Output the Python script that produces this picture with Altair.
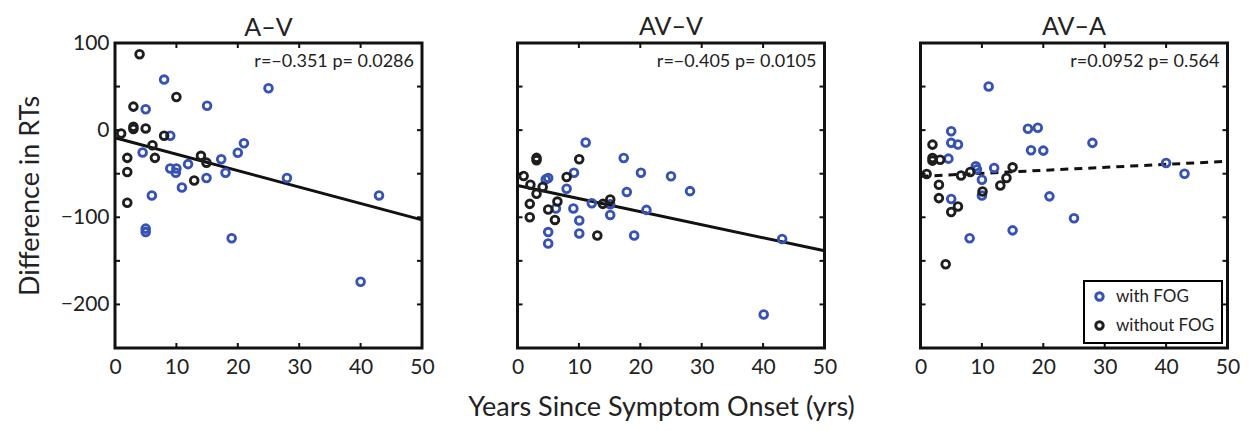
import altair as alt
import pandas as pd

FONT = "Lato"
BLUE = "#3652b2"
BLACK = "#1e1e1e"

groups = ["with FOG", "without FOG"]
panel_titles = ["A\u2013V", "AV\u2013V", "AV\u2013A"]
stat_texts = ["r=\u22120.351 p= 0.0286", "r=\u22120.405 p= 0.0105", "r=0.0952 p= 0.564"]

# Panel A-V
av_fog_x = [8, 25, 15, 5, 9, 21, 4.5, 20, 17.3, 11.9, 9, 10, 9.9, 18, 14.9, 28, 10.9, 6, 43, 5, 5, 19, 40]
av_fog_y = [58, 48, 28, 24, -6.5, -15, -25.7, -26, -33.5, -39, -44, -44, -48.8, -49, -55, -55, -65.8, -75, -75, -113, -117, -124, -174]
av_nofog_x = [4, 10, 3, 3, 3, 5, 1, 8, 6.1, 2, 6.5, 14, 14.9, 2, 12.9, 2]
av_nofog_y = [87, 38, 27, 4, 1.2, 2, -3.8, -6.5, -17.3, -31.8, -31.8, -29.5, -37.3, -48, -57.7, -83.4]

# Panel AV-V
avv_fog_x = [11.1, 17.3, 20.1, 9.2, 25, 5.0, 4.6, 8.0, 28.1, 17.8, 12.1, 15.1, 21, 9.1, 6.25, 15.1, 10.06, 5.0, 10.06, 19, 5.0, 43.1, 40.1]
avv_fog_y = [-14.2, -31.9, -49, -48.8, -53, -55, -56.5, -67.3, -70, -71, -83.8, -85, -91.5, -90, -90, -97.3, -103.8, -117, -118.5, -121, -130, -125, -211.5]
avv_nofog_x = [3.1, 3.1, 10.05, 1.0, 8.0, 2.1, 4.1, 3.1, 2.0, 6.5, 5.0, 2.0, 6.1, 13.9, 15.1, 13.0]
avv_nofog_y = [-31.8, -34.6, -33.4, -52.6, -53.8, -62.7, -65.3, -73, -84.6, -82, -91, -100, -103, -84.6, -79.6, -121]

# Panel AV-A
ava_fog_x = [11.1, 5.0, 17.5, 19.1, 5.0, 6.1, 28, 4.55, 18, 20, 9.0, 9.2, 12, 10, 10, 21, 5.0, 25, 15, 8, 40, 43]
ava_fog_y = [50, -1.2, 1.5, 2.7, -14.6, -16.5, -14.6, -32.7, -23, -23.5, -41.5, -45, -43.5, -57, -75, -76, -79, -101, -115, -124, -37.7, -50]
ava_nofog_x = [1.95, 1.95, 1.95, 3.2, 1.0, 6.6, 8.1, 3.0, 15.0, 14.0, 13.0, 10.1, 3.0, 6.1, 5.0, 4.1]
ava_nofog_y = [-16.6, -32, -35, -34, -50.4, -52, -48, -62.7, -42.7, -55, -63.5, -70.4, -78, -87.7, -94, -154]

fit_x = [0, 50]
av_fit_y = [-8.8, -103]
avv_fit_y = [-63.5, -138.5]
ava_fit_y = [-53, -35.8]

y_tick_vals = [50, 0, -50, -100, -150, -200]
y_label_vals = [100, 0, -100, -200]
x_tick_vals = [10, 20, 30, 40]
x_label_vals = [0, 10, 20, 30, 40, 50]

W, H = 307, 305
TL = 5

panels = [
    (av_fog_x, av_fog_y, av_nofog_x, av_nofog_y, av_fit_y, False),
    (avv_fog_x, avv_fog_y, avv_nofog_x, avv_nofog_y, avv_fit_y, False),
    (ava_fog_x, ava_fog_y, ava_nofog_x, ava_nofog_y, ava_fit_y, True),
]

xscale = alt.Scale(domain=[0, 50], nice=False, zero=False)
yscale = alt.Scale(domain=[-250, 100], nice=False, zero=False)
cscale = alt.Scale(domain=groups, range=[BLUE, BLACK])

legend = alt.Legend(title=None, orient="none", legendX=969, legendY=238, labelFontSize=17,
                    labelFont=FONT, labelColor="#222", symbolType="circle",
                    symbolFillColor="white", symbolStrokeWidth=3, symbolSize=55,
                    padding=7, rowPadding=8, strokeColor="black", fillColor="white",
                    labelOffset=8)

charts = []
for i, (fx, fy, nx, ny, fit_y, dashed) in enumerate(panels):
    pts = pd.DataFrame({
        "x": list(fx) + list(nx),
        "y": list(fy) + list(ny),
        "group": [groups[0]] * len(fx) + [groups[1]] * len(nx),
    })
    fit = pd.DataFrame({"x": fit_x, "y": fit_y})
    yt = pd.DataFrame({"y": y_tick_vals})
    xt = pd.DataFrame({"x": x_tick_vals})
    txt = pd.DataFrame({"t": [stat_texts[i]]})

    if i == 0:
        yaxis = alt.Axis(values=y_label_vals, ticks=False, tickSize=0, domain=False, grid=False,
                         labelFontSize=21, labelPadding=6, labelColor="#222", labelFont=FONT,
                         labelFlush=False,
                         title="Difference in RTs", titleFontSize=27, titleFont=FONT,
                         titleFontWeight="normal", titlePadding=16, titleColor="#222")
    else:
        yaxis = None
    if i == 1:
        xaxis = alt.Axis(values=x_label_vals, ticks=False, tickSize=0, domain=False, grid=False,
                         labelFontSize=21, labelPadding=8, labelColor="#222", labelFont=FONT,
                         labelFlush=False,
                         title="Years Since Symptom Onset (yrs)", titleX=W / 2 - 10,
                         titleFontSize=27, titleFont=FONT, titleFontWeight="normal",
                         titlePadding=17, titleColor="#222")
    else:
        xaxis = alt.Axis(values=x_label_vals, ticks=False, tickSize=0, domain=False, grid=False,
                         labelFontSize=21, labelPadding=8, labelColor="#222", labelFont=FONT,
                         labelFlush=False, title=None)

    def X(f="x:Q"):
        return alt.X(f, scale=xscale, axis=xaxis)

    def Y(f="y:Q"):
        return alt.Y(f, scale=yscale, axis=yaxis)

    points = alt.Chart(pts).mark_point(shape="circle", filled=False, strokeWidth=2.8, size=60, opacity=1).encode(
        x=X(), y=Y(),
        color=alt.Color("group:N", scale=cscale, legend=legend),
    )
    if dashed:
        line = alt.Chart(fit).mark_line(color="#111", strokeWidth=3, strokeDash=[8, 6]).encode(x=X(), y=Y())
    else:
        line = alt.Chart(fit).mark_line(color="#111", strokeWidth=3).encode(x=X(), y=Y())
    ytl = alt.Chart(yt).mark_rule(color="#111", strokeWidth=2).encode(
        y=Y(), x=alt.value(0), x2=alt.value(TL))
    ytr = alt.Chart(yt).mark_rule(color="#111", strokeWidth=2).encode(
        y=Y(), x=alt.value(W - TL), x2=alt.value(W))
    xtb = alt.Chart(xt).mark_rule(color="#111", strokeWidth=2).encode(
        x=X(), y=alt.value(H - TL), y2=alt.value(H))
    xtt = alt.Chart(xt).mark_rule(color="#111", strokeWidth=2).encode(
        x=X(), y=alt.value(0), y2=alt.value(TL))
    text = alt.Chart(txt).mark_text(align="right", baseline="middle", fontSize=18, font=FONT,
                                    color="#222").encode(
        text="t:N", x=alt.value(W - 8), y=alt.value(19))

    if i == 0:
        tparams = alt.TitleParams(panel_titles[i], fontSize=25, font=FONT, fontWeight="normal",
                                  color="#222", offset=-8.5)
    else:
        tparams = alt.TitleParams(panel_titles[i], fontSize=25, font=FONT, fontWeight="normal",
                                  color="#222", offset=2)

    layer = alt.layer(line, points, ytl, ytr, xtb, xtt, text).properties(
        width=W, height=H, title=tparams,
    )
    charts.append(layer)

inner = alt.hconcat(charts[0], charts[1], spacing=29.5)
chart = alt.hconcat(inner, charts[2], spacing=56.5).configure_view(
    stroke="#111", strokeWidth=3
).configure_legend(strokeWidth=2).properties(
    padding={"left": 14, "top": 13, "right": 5, "bottom": 3}
)

chart.save("out.html", embed_options={"renderer": "svg", "actions": False})
